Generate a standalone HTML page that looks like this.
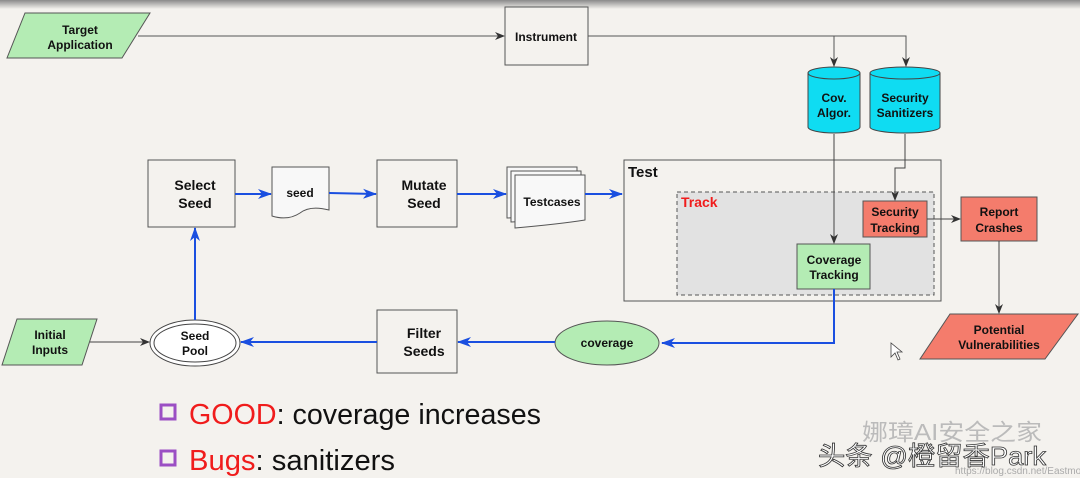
<!DOCTYPE html>
<html><head><meta charset="utf-8"><style>
html,body{margin:0;padding:0;background:#f4f2ee;}
svg{display:block;font-family:"Liberation Sans",Arial,sans-serif;}
</style></head><body>
<svg width="1080" height="478" viewBox="0 0 1080 478">
<defs>
<linearGradient id="top" x1="0" y1="0" x2="0" y2="1"><stop offset="0" stop-color="#8a8a8a"/><stop offset="1" stop-color="#f4f2ee"/></linearGradient>
<marker id="ak" markerWidth="10" markerHeight="8" refX="9" refY="4" orient="auto" markerUnits="userSpaceOnUse"><path d="M0,0 L10,4 L0,8 L3,4z" fill="#333"/></marker>
<marker id="ab" markerWidth="14" markerHeight="10" refX="13" refY="5" orient="auto" markerUnits="userSpaceOnUse"><path d="M0,0 L14,5 L0,10 L4,5z" fill="#1a4fe0"/></marker>
</defs>
<rect width="1080" height="478" fill="#f4f2ee"/>
<rect width="1080" height="9" fill="url(#top)"/>
<g font-weight="bold" font-size="12" text-anchor="middle" fill="#111">
<polygon points="25,13 150,13 122,58 7,58" fill="#b4ecb4" stroke="#555"/>
<text x="80" y="34">Target</text><text x="80" y="49">Application</text>
<line x1="138" y1="36" x2="504" y2="36" stroke="#555" marker-end="url(#ak)"/>
<rect x="505" y="7" width="83" height="58" fill="#f4f2ee" stroke="#555"/>
<text x="546" y="41">Instrument</text>
<polyline points="588,36 906,36 906,66" fill="none" stroke="#555" marker-end="url(#ak)"/>
<line x1="834" y1="36" x2="834" y2="66" stroke="#555" marker-end="url(#ak)"/>
<path d="M808,73 L808,127 A26,6 0 0 0 860,127 L860,73" fill="#0fdcf2" stroke="#444"/>
<ellipse cx="834" cy="73" rx="26" ry="6" fill="#0fdcf2" stroke="#444"/>
<text x="834" y="102">Cov.</text><text x="834" y="117">Algor.</text>
<path d="M870,73 L870,127 A35,6 0 0 0 940,127 L940,73" fill="#0fdcf2" stroke="#444"/>
<ellipse cx="905" cy="73" rx="35" ry="6" fill="#0fdcf2" stroke="#444"/>
<text x="905" y="102">Security</text><text x="905" y="117">Sanitizers</text>
<rect x="624" y="160" width="317" height="141" fill="none" stroke="#555"/>
<text x="628" y="177" text-anchor="start" font-size="15">Test</text>
<rect x="677" y="192" width="257" height="103" fill="#e2e2e2" stroke="#555" stroke-dasharray="4,3"/>
<text x="681" y="207" text-anchor="start" font-size="14" fill="#f01c1c">Track</text>
<line x1="834" y1="134" x2="834" y2="243" stroke="#444" marker-end="url(#ak)"/>
<polyline points="905,134 905,168 895,168 895,200" fill="none" stroke="#444" marker-end="url(#ak)"/>
<rect x="863" y="201" width="64" height="36" fill="#f47c6c" stroke="#555"/>
<text x="895" y="216">Security</text><text x="895" y="232">Tracking</text>
<rect x="797" y="244" width="73" height="45" fill="#b4ecb4" stroke="#555"/>
<text x="834" y="264">Coverage</text><text x="834" y="279">Tracking</text>
<line x1="927" y1="219" x2="960" y2="219" stroke="#444" marker-end="url(#ak)"/>
<rect x="961" y="197" width="76" height="44" fill="#f47c6c" stroke="#555"/>
<text x="999" y="216">Report</text><text x="999" y="232">Crashes</text>
<line x1="999" y1="241" x2="999" y2="313" stroke="#444" marker-end="url(#ak)"/>
<polygon points="950,314 1078,314 1045,359 920,359" fill="#f47c6c" stroke="#555"/>
<text x="999" y="334">Potential</text><text x="999" y="349">Vulnerabilities</text>
<rect x="148" y="160" width="87" height="67" fill="#f4f2ee" stroke="#555"/>
<text x="195" y="190" font-size="14">Select</text><text x="195" y="208" font-size="14">Seed</text>
<line x1="235" y1="194" x2="271" y2="194" stroke="#1a4fe0" stroke-width="2" marker-end="url(#ab)"/>
<path d="M272,167 L329,167 L329,210 Q310,205 300,213 Q288,221 272,216 Z" fill="#f8f8f8" stroke="#555"/>
<text x="300" y="197">seed</text>
<line x1="329" y1="193" x2="376" y2="194" stroke="#1a4fe0" stroke-width="2" marker-end="url(#ab)"/>
<rect x="377" y="160" width="80" height="67" fill="#f4f2ee" stroke="#555"/>
<text x="424" y="190" font-size="14">Mutate</text><text x="424" y="208" font-size="14">Seed</text>
<line x1="457" y1="194" x2="506" y2="194" stroke="#1a4fe0" stroke-width="2" marker-end="url(#ab)"/>
<path d="M507,167 L577,167 L577,212 Q550,216 507,218 Z" fill="#f8f8f8" stroke="#555"/>
<path d="M511,171 L581,171 L581,216 Q555,220 511,222 Z" fill="#f8f8f8" stroke="#555"/>
<path d="M515,175 L585,175 L585,220 Q560,224 515,228 Z" fill="#f8f8f8" stroke="#555"/>
<text x="552" y="206">Testcases</text>
<line x1="585" y1="194" x2="622" y2="194" stroke="#1a4fe0" stroke-width="2" marker-end="url(#ab)"/>
<polyline points="834,289 834,343 662,343" fill="none" stroke="#1a4fe0" stroke-width="2" marker-end="url(#ab)"/>
<ellipse cx="607" cy="343" rx="52" ry="22" fill="#b4ecb4" stroke="#555"/>
<text x="607" y="347">coverage</text>
<line x1="555" y1="342" x2="458" y2="342" stroke="#1a4fe0" stroke-width="2" marker-end="url(#ab)"/>
<rect x="377" y="310" width="80" height="63" fill="#f4f2ee" stroke="#555"/>
<text x="424" y="338" font-size="14">Filter</text><text x="424" y="356" font-size="14">Seeds</text>
<line x1="377" y1="342" x2="241" y2="342" stroke="#1a4fe0" stroke-width="2" marker-end="url(#ab)"/>
<ellipse cx="195" cy="343" rx="45" ry="23" fill="#fff" stroke="#444"/>
<ellipse cx="195" cy="343" rx="41" ry="19" fill="#fff" stroke="#444"/>
<text x="195" y="340">Seed</text><text x="195" y="355">Pool</text>
<line x1="195" y1="320" x2="195" y2="228" stroke="#1a4fe0" stroke-width="2" marker-end="url(#ab)"/>
<polygon points="17,319 97,319 82,365 2,365" fill="#b4ecb4" stroke="#555"/>
<text x="50" y="339">Initial</text><text x="50" y="354">Inputs</text>
<line x1="90" y1="342" x2="149" y2="342" stroke="#444" marker-end="url(#ak)"/>
</g>
<rect x="161" y="405" width="14" height="14" fill="none" stroke="#9b4fc4" stroke-width="3"/>
<text x="189" y="424" font-size="29" fill="#f01c1c" textLength="352" lengthAdjust="spacingAndGlyphs">GOOD<tspan fill="#111">:  coverage increases</tspan></text>
<rect x="161" y="451" width="14" height="14" fill="none" stroke="#9b4fc4" stroke-width="3"/>
<text x="189" y="470" font-size="29" fill="#f01c1c" textLength="206" lengthAdjust="spacingAndGlyphs">Bugs<tspan fill="#111">:  sanitizers</tspan></text>
<text x="862" y="440" font-size="23" fill="#bbb" font-family="'Liberation Sans','Noto Sans CJK SC',sans-serif" textLength="180" lengthAdjust="spacingAndGlyphs">娜璋AI安全之家</text>
<text x="818" y="465" font-size="26" fill="#fff" stroke="#333" stroke-width="0.8" font-family="'Liberation Sans','Noto Sans CJK SC',sans-serif" textLength="228" lengthAdjust="spacingAndGlyphs">头条 @橙留香Park</text>
<text x="955" y="474" font-size="10" fill="#aaa">https://blog.csdn.net/Eastmount</text>
<path d="M891,343 L891,357 L895,353 L898,360 L900,359 L897,352 L902,352 Z" fill="#fff" stroke="#444" stroke-width="0.8"/>
</svg>
</body></html>
